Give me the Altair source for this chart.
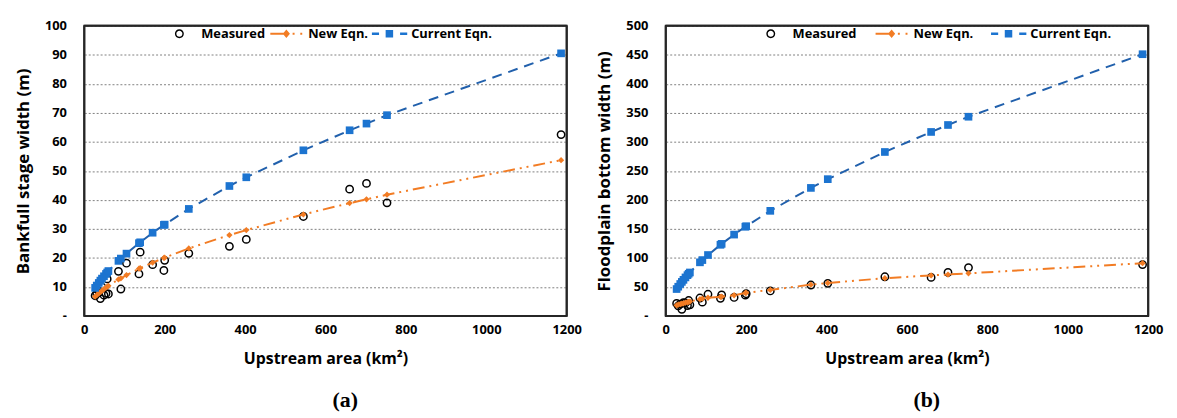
import altair as alt
import pandas as pd

# Upstream area (km2) of the stations
area = [27, 31, 36, 40, 44, 49, 54, 57, 60, 85, 91, 105, 136, 139, 170, 198, 200,
        260, 361, 403, 545, 660, 702, 753, 1186]

# (a) Bankfull stage width (m)
bank_measured = [7.0, 7.7, 8.6, 6.0, 10.0, 7.2, 7.8, 12.8, 7.6, 15.4, 9.3, 18.2, 14.5, 22.0,
                 17.7, 15.7, 19.2, 21.6, 24.0, 26.4, 34.3, 43.7, 45.7, 39.0, 62.5]
bank_new = [6.7, 7.2, 7.8, 8.3, 8.7, 9.3, 9.8, 10.1, 10.4, 12.6, 13.0, 14.1, 16.3, 16.5,
            18.4, 20.0, 20.1, 23.3, 27.9, 29.6, 35.0, 38.9, 40.2, 41.8, 53.7]
bank_current = [9.7, 10.5, 11.4, 12.2, 12.9, 13.7, 14.5, 15.0, 15.5, 19.0, 19.8, 21.5, 25.1, 25.4,
                28.7, 31.4, 31.5, 36.9, 44.8, 47.8, 57.1, 64.0, 66.3, 69.2, 90.5]

# (b) Floodplain bottom width (m)
flood_measured = [21.6, 17.5, 20.5, 11.5, 23.0, 22.5, 18.0, 26.7, 19.3, 31.0, 23.9, 37.5, 30.5, 36.4,
                  32.0, 36.0, 38.4, 43.2, 53.4, 56.3, 67.6, 66.5, 75.0, 83.5, 88.6]
flood_new = [18.5, 19.5, 20.5, 21.3, 22.0, 23.0, 23.8, 24.4, 25.0, 29.0, 29.9, 31.5, 33.0, 33.3,
             35.8, 39.8, 40.0, 45.0, 54.0, 56.9, 65.2, 70.0, 71.5, 73.5, 91.0]
flood_current = [46.5, 50.5, 55.2, 58.8, 62.3, 66.5, 70.4, 72.8, 75.0, 92.5, 96.4, 105.1, 122.7, 124.3,
                 140.3, 153.8, 154.7, 181.2, 220.7, 235.8, 282.6, 317.1, 329.1, 343.3, 451.0]

series_names = ["Measured", "New Eqn.", "Current Eqn."]
x_ticks = [0, 200, 400, 600, 800, 1000, 1200]

FONT = "Open Sans"
ORANGE = "#F27C24"
BLUE_M = "#1C74D0"
BLUE_L = "#2160AC"
FRAME = "#262626"
W, H = 487, 293

# legend symbols: line + marker drawn as filled paths (unit coords, r = sqrt(size)/2)
ring = ("M-0.25,0 A0.25,0.25 0 1,0 0.25,0 A0.25,0.25 0 1,0 -0.25,0 Z "
        "M-0.17,0 A0.17,0.17 0 1,1 0.17,0 A0.17,0.17 0 1,1 -0.17,0 Z")
new_sym = ("M-0.9,-0.06 L-0.1,-0.06 L-0.1,0.06 L-0.9,0.06 Z "
           "M0,-0.24 L0.2,0 L0,0.24 L-0.2,0 Z "
           "M0.35,-0.06 L0.46,-0.06 L0.46,0.06 L0.35,0.06 Z "
           "M0.78,-0.06 L0.89,-0.06 L0.89,0.06 L0.78,0.06 Z")
cur_sym = ("M-0.98,-0.07 L-0.58,-0.07 L-0.58,0.07 L-0.98,0.07 Z "
           "M-0.21,-0.21 L0.21,-0.21 L0.21,0.21 L-0.21,0.21 Z "
           "M0.6,-0.07 L1,-0.07 L1,0.07 L0.6,0.07 Z")
legend_paths = [ring, new_sym, cur_sym]
legend_colors = ["#000000", ORANGE, BLUE_M]


def panel(measured, new, current, ytitle, ymax, ystep, caption, leg_x, col_pad):
    df = pd.DataFrame({"area": area, "measured": measured, "new": new, "current": current})
    yvals = list(range(0, ymax + 1, ystep))
    xscale = alt.Scale(domain=[0, 1200], nice=False)
    yscale = alt.Scale(domain=[0, ymax], nice=False)
    xaxis = alt.Axis(values=x_ticks, format="d", grid=False, ticks=False, domain=False,
                     labelFlush=False,
                     labelFont=FONT, labelFontSize=13, labelFontWeight="bold",
                     labelColor="#000", labelPadding=8,
                     title="Upstream area (km²)", titleFont=FONT, titleFontSize=16,
                     titleFontWeight="bold", titleColor="#000", titlePadding=14)
    yaxis = alt.Axis(values=yvals, grid=True, gridDash=[2, 2], gridColor="#808080",
                     gridWidth=1, ticks=False, domain=False, labelFlush=False,
                     labelExpr="datum.value == 0 ? '-' : datum.label",
                     labelFont=FONT, labelFontSize=13, labelFontWeight="bold",
                     labelColor="#000", labelPadding=18,
                     title=ytitle, titleFont=FONT, titleFontSize=17,
                     titleFontWeight="bold", titleColor="#000", titlePadding=12)
    x = alt.X("area:Q", scale=xscale, axis=xaxis)

    def y(field):
        return alt.Y(f"{field}:Q", scale=yscale, axis=yaxis)

    base = alt.Chart(df)
    meas = base.mark_point(shape="circle", filled=False, size=55, stroke="#000",
                           strokeWidth=1.5, opacity=1).encode(x=x, y=y("measured"))
    new_line = base.mark_line(color=ORANGE, strokeWidth=2,
                              strokeDash=[12, 5, 2, 5, 2, 5]).encode(x=x, y=y("new"))
    new_pts = base.mark_point(shape="diamond", filled=True, size=40, color=ORANGE,
                              opacity=1).encode(x=x, y=y("new"))
    cur_line = base.mark_line(color=BLUE_L, strokeWidth=2,
                              strokeDash=[10, 7]).encode(x=x, y=y("current"))
    cur_pts = base.mark_square(size=60, color=BLUE_M, opacity=1).encode(x=x, y=y("current"))

    # plot-area border drawn along the axis domain limits
    edges = pd.DataFrame({"x0": [0, 0, 0, 1200], "x1": [1200, 1200, 0, 1200],
                          "y0": [0, ymax, 0, 0], "y1": [0, ymax, ymax, ymax]})
    frame = alt.Chart(edges).mark_rule(color=FRAME, strokeWidth=2, opacity=1).encode(
        x=alt.X("x0:Q", scale=xscale, axis=xaxis), x2="x1:Q",
        y=alt.Y("y0:Q", scale=yscale, axis=yaxis), y2="y1:Q")

    leg = alt.Legend(orient="none", legendX=leg_x, legendY=-10, direction="horizontal",
                     title=None, symbolSize=1296, symbolStrokeWidth=0,
                     labelFont=FONT, labelFontSize=13, labelFontWeight="bold",
                     labelColor="#000", labelOffset=4, columnPadding=col_pad, padding=0)
    leg_df = pd.DataFrame({"series": series_names})
    legend_layer = alt.Chart(leg_df).transform_filter("false").mark_point(
        filled=True, opacity=1, strokeWidth=0).encode(
        color=alt.Color("series:N", scale=alt.Scale(domain=series_names, range=legend_colors),
                        legend=leg),
        shape=alt.Shape("series:N", scale=alt.Scale(domain=series_names, range=legend_paths),
                        legend=leg),
    )

    return alt.layer(meas, new_line, new_pts, cur_line, cur_pts, frame, legend_layer).properties(
        width=W, height=H,
        title=alt.TitleParams(caption, orient="bottom", font="Liberation Serif", fontSize=22,
                              fontWeight="bold", color="#000", offset=24, dx=20),
    )


pa = panel(bank_measured, bank_new, bank_current, "Bankfull stage width (m)", 100, 10,
           "(a)", 78, 3)
pb = panel(flood_measured, flood_new, flood_current, "Floodplain bottom width (m)", 500, 50,
           "(b)", 88, 17)

chart = alt.hconcat(pa, pb, spacing=12).resolve_scale(
    color="independent", shape="independent").resolve_legend(
    color="independent", shape="independent").configure_view(stroke="#262626", strokeWidth=2)

chart.save("out.html", embed_options={"renderer": "svg", "actions": False})
